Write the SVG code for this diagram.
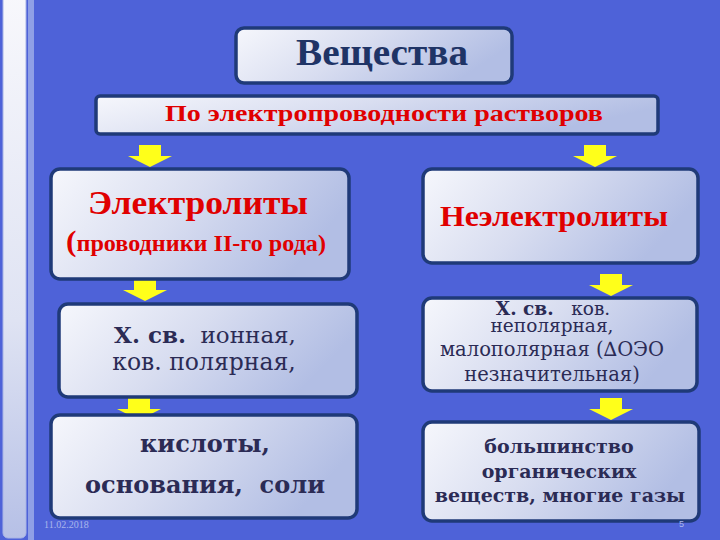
<svg xmlns="http://www.w3.org/2000/svg" width="720" height="540" viewBox="0 0 720 540">
<defs>
<linearGradient id="boxg" x1="0" y1="0" x2="1" y2="0.3">
<stop offset="0" stop-color="#f6f7fc"/>
<stop offset="0.5" stop-color="#d8ddf0"/>
<stop offset="1" stop-color="#b2bee4"/>
</linearGradient>
<linearGradient id="barg" x1="0" y1="0" x2="0" y2="1">
<stop offset="0" stop-color="#f8f8fc"/>
<stop offset="0.6" stop-color="#dfe3f3"/>
<stop offset="1" stop-color="#b6c0e6"/>
</linearGradient>
<path id="arr" d="M-11,0 H11 V11 H22 L0,22 L-22,11 H-11 Z"/>
</defs>
<style>
.box{fill:url(#boxg);stroke:#1f3a78;stroke-width:3.5}
.ar{fill:#ffff1a}
.red{font-weight:bold;fill:#e00000;text-anchor:middle}
.nv{fill:#2b2b55;text-anchor:middle}
.b{font-weight:bold}
</style>
<rect width="720" height="540" fill="#4e62d8"/>
<rect x="28" y="0" width="6" height="540" fill="#8f9fe6"/>
<rect x="3" y="-6" width="23" height="544" rx="5" fill="url(#barg)" stroke="#a8b4e6" stroke-width="1"/>

<g id="connectors">
<use href="#arr" class="ar" x="150" y="145"/>
<use href="#arr" class="ar" x="595" y="145"/>
<use href="#arr" class="ar" x="145" y="279"/>
<use href="#arr" class="ar" x="611" y="274"/>
<use href="#arr" class="ar" x="139" y="398"/>
<use href="#arr" class="ar" x="611" y="398"/>
</g>

<g id="title">
<rect class="box" x="236" y="28" width="276" height="55" rx="8"/>
<text x="382" y="65" font-family="Liberation Serif, serif" font-weight="bold" font-size="37" fill="#1f3466" text-anchor="middle" textLength="172" lengthAdjust="spacingAndGlyphs">Вещества</text>
</g>
<g id="criterion">
<rect class="box" x="96" y="96" width="562" height="38" rx="4"/>
<text class="red" x="384" y="121" font-family="Liberation Serif, serif" font-size="24" textLength="438" lengthAdjust="spacingAndGlyphs">По электропроводности растворов</text>
</g>
<g id="electrolytes">
<rect class="box" x="51" y="169" width="298" height="110" rx="9"/>
<text class="red" x="198" y="214" font-family="Liberation Serif, serif" font-size="33" textLength="220" lengthAdjust="spacingAndGlyphs">Электролиты</text>
<text class="red" x="196" y="251" font-family="Liberation Serif, serif" font-size="23" textLength="260" lengthAdjust="spacingAndGlyphs"><tspan font-size="30">(</tspan>проводники II-го рода)</text>
</g>
<g id="nonelectrolytes">
<rect class="box" x="423" y="169" width="275" height="94" rx="9"/>
<text class="red" x="554" y="226" font-family="Liberation Serif, serif" font-size="30" textLength="228" lengthAdjust="spacingAndGlyphs">Неэлектролиты</text>
</g>
<g id="bond-left">
<rect class="box" x="59" y="304" width="298" height="93" rx="9"/>
<text class="nv" x="205" y="343" font-family="DejaVu Serif, serif" font-size="23"><tspan class="b">Х. св.</tspan>&#160; ионная,</text>
<text class="nv" x="204" y="370" font-family="DejaVu Serif, serif" font-size="23.5">ков. полярная,</text>
</g>
<g id="bond-right">
<rect class="box" x="423" y="298" width="274" height="93" rx="9"/>
<text class="nv" x="553" y="315" font-family="DejaVu Serif, serif" font-size="18.5"><tspan class="b">Х. св.</tspan>&#160;&#160; ков.</text>
<text class="nv" x="552" y="332" font-family="DejaVu Serif, serif" font-size="18.5">неполярная,</text>
<text class="nv" x="552" y="356" font-family="DejaVu Serif, serif" font-size="19.5">малополярная (∆ОЭО</text>
<text class="nv" x="552" y="381" font-family="DejaVu Serif, serif" font-size="19.5">незначительная)</text>
</g>
<g id="examples-left">
<rect class="box" x="51" y="415" width="306" height="103" rx="9"/>
<text class="nv b" x="205" y="452" font-family="DejaVu Serif, serif" font-size="24">кислоты,</text>
<text class="nv b" x="205" y="493" font-family="DejaVu Serif, serif" font-size="24">основания,&#160; соли</text>
</g>
<g id="examples-right">
<rect class="box" x="423" y="422" width="276" height="99" rx="9"/>
<text class="nv b" x="559" y="453" font-family="DejaVu Serif, serif" font-size="19">большинство</text>
<text class="nv b" x="559" y="478" font-family="DejaVu Serif, serif" font-size="19">органических</text>
<text class="nv b" x="560" y="502" font-family="DejaVu Serif, serif" font-size="19">веществ, многие газы</text>
</g>
<text x="44" y="528" font-family="Liberation Serif, serif" font-size="10" fill="#aab6ec">11.02.2018</text>
<text x="679" y="527" font-family="Liberation Sans, sans-serif" font-size="9" fill="#aab6ec">5</text>
</svg>
